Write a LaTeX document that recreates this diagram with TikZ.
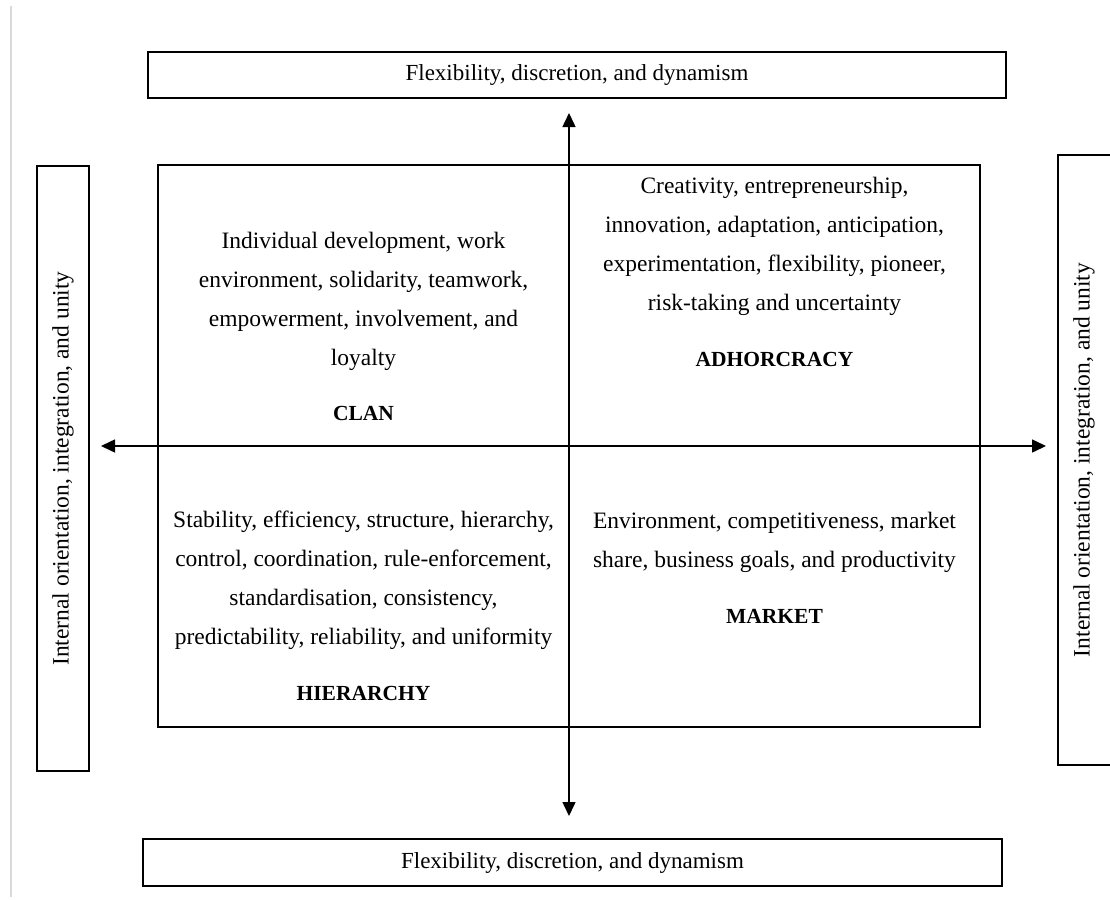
\documentclass[tikz,border=0pt]{standalone}
\usepackage{fontspec}
\setmainfont{Liberation Serif}
\usetikzlibrary{arrows.meta}

\begin{document}
\begin{tikzpicture}[
        x=1pt, y=-1pt,
        frame/.style={draw, line width=1.4pt, inner sep=0pt},
        sidebox/.style={frame, font=\fontsize{23}{27}\selectfont},
        sidetext/.style={rotate=90, font=\fontsize{23.5}{27}\selectfont},
        quadtext/.style={align=center, font=\fontsize{23.5}{39}\selectfont},
        quadname/.style={font=\fontsize{21.5}{25}\selectfont\bfseries},
        axis/.style={line width=1.5pt, {Triangle[length=14pt,width=13pt]}-{Triangle[length=14pt,width=13pt]}}
        ]
        \useasboundingbox (0,0) rectangle (1110,899);
        \draw[black!15, line width=1.5pt] (11,6) -- (11,897);

        % outer labels
        \node [sidebox, minimum width=858pt, minimum height=46pt] (top) at (577,75) {Flexibility, discretion, and dynamism};
        \node [sidebox, minimum width=859pt, minimum height=47pt] (bottom) at (572.5,862.5) {Flexibility, discretion, and dynamism};
        \node [sidebox, minimum width=52pt, minimum height=605pt] (left) at (63,468.5) {};
        \node [sidetext] (lefttext) at (left.center) {Internal orientation, integration, and unity};
        \node [sidebox, minimum width=54pt, minimum height=610pt] (right) at (1085,460) {};
        \node [sidetext] (righttext) at (1084,460) {Internal orientation, integration, and unity};

        % the grid
        \node [frame, minimum width=822pt, minimum height=562pt] (grid) at (569,446) {};
        \coordinate (west) at (101,446);
        \coordinate (east) at (1046,446);
        \coordinate (north) at (569,113);
        \coordinate (south) at (569,816);
        \draw [axis] (west) -- (east);
        \draw [axis] (north) -- (south);

        % quadrants
        \node [quadtext] (clan) at (363.5,301) {Individual development, work\\environment, solidarity, teamwork,\\empowerment, involvement, and\\loyalty};
        \node [quadname] (clanname) at (363.5,413) {CLAN};
        \node [quadtext] (adhoc) at (774.5,246.5) {Creativity, entrepreneurship,\\innovation, adaptation, anticipation,\\experimentation, flexibility, pioneer,\\risk-taking and uncertainty};
        \node [quadname] (adhocname) at (774.5,359) {ADHORCRACY};
        \node [quadtext] (hier) at (363.5,580.5) {Stability, efficiency, structure, hierarchy,\\control, coordination, rule-enforcement,\\standardisation, consistency,\\predictability, reliability, and uniformity};
        \node [quadname] (hiername) at (363.5,693) {HIERARCHY};
        \node [quadtext] (market) at (774.5,542) {Environment, competitiveness, market\\share, business goals, and productivity};
        \node [quadname] (marketname) at (774.5,616) {MARKET};
    \end{tikzpicture}
\end{document}
